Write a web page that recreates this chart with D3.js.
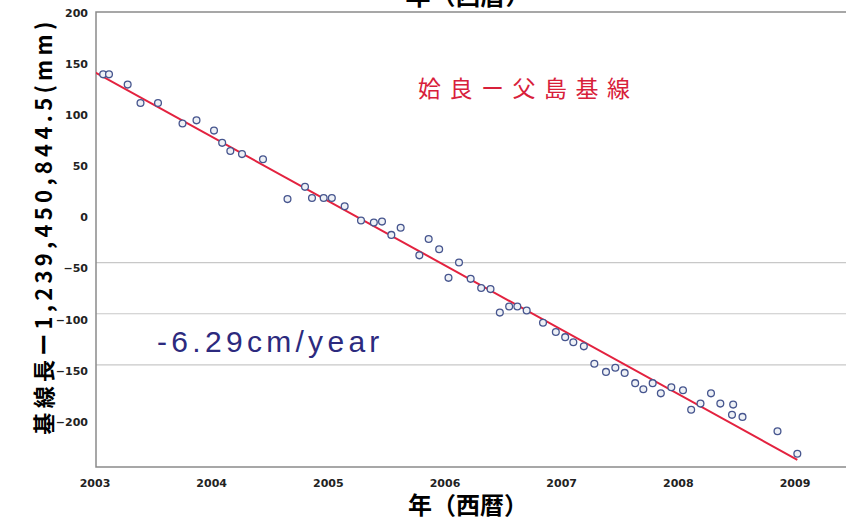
<!DOCTYPE html>
<html lang="ja">
<head>
  <meta charset="UTF-8">
  <title>姶良ー父島基線</title>
  <script src="https://d3js.org/d3.v7.min.js"></script>
  <style>
    body { margin: 0; background: #fff; }
    svg { font-family: "Noto Sans CJK JP", "DejaVu Sans", sans-serif; }
    .tick-label { font-family: "DejaVu Sans", sans-serif; font-size: 11px; font-weight: bold; fill: #222; }
  </style>
</head>
<body>
  <svg></svg>
  <script>
    // 観測値 (年, mm)
    const years = [
      2003.07, 2003.12, 2003.28, 2003.39, 2003.54, 2003.75, 2003.87, 2004.02, 2004.09, 2004.16,
      2004.26, 2004.44, 2004.65, 2004.80, 2004.86, 2004.96, 2005.03, 2005.14, 2005.28, 2005.39,
      2005.46, 2005.54, 2005.62, 2005.78, 2005.86, 2005.95, 2006.03, 2006.12, 2006.22, 2006.31,
      2006.39, 2006.47, 2006.55, 2006.62, 2006.70, 2006.84, 2006.95, 2007.03, 2007.10, 2007.19,
      2007.28, 2007.38, 2007.46, 2007.54, 2007.63, 2007.70, 2007.78, 2007.85, 2007.94, 2008.04,
      2008.11, 2008.19, 2008.28, 2008.36, 2008.46, 2008.47, 2008.55, 2008.85, 2009.02
    ];
    const values = [
      140, 140, 130, 112, 112, 92, 95, 85, 73, 65,
      62, 57, 18, 30, 19, 19, 19, 11, -3, -5,
      -4, -17, -10, -37, -21, -31, -59, -44, -60, -69,
      -70, -93, -87, -87, -91, -103, -112, -117, -122, -126,
      -143, -151, -147, -152, -162, -168, -162, -172, -166, -169,
      -188, -182, -172, -182, -193, -183, -195, -209, -231
    ];
    // 回帰直線 -6.29cm/year
    const trendYears = [2003.0, 2009.02];
    const trendValues = [142, -237];

    const xTicks = [2003, 2004, 2005, 2006, 2007, 2008, 2009];
    const yTicks = [200, 150, 100, 50, 0, -50, -100, -150, -200];
    const gridValues = [-50, -100, -150];

    const W = 846, H = 520;
    const plot = { left: 96, top: 12, right: 846, bottom: 467 };

    const svg = d3.select('svg').attr('width', W).attr('height', H);

    const x = d3.scaleLinear().domain([2003, 2009]).range([95, 795]);
    const y = d3.scaleLinear().domain([-200, 200]).range([422, 13]);

    // grid lines
    svg.append('g')
      .attr('transform', 'translate(0,-6)')
      .selectAll('line')
      .data(gridValues)
      .join('line')
      .attr('x1', plot.left).attr('x2', plot.right)
      .attr('y1', d => y(d)).attr('y2', d => y(d))
      .attr('stroke', '#c8c8c8').attr('stroke-width', 1.2);

    // frame
    svg.append('path')
      .attr('d', `M${plot.right},${plot.top}H${plot.left}V${plot.bottom}H${plot.right}`)
      .attr('fill', 'none').attr('stroke', '#8a8a8a').attr('stroke-width', 1.5);

    // tick labels
    svg.append('g').selectAll('text')
      .data(xTicks)
      .join('text')
      .attr('class', 'tick-label')
      .attr('x', d => x(d)).attr('y', 487)
      .attr('text-anchor', 'middle')
      .text(d => d);

    svg.append('g').selectAll('text')
      .data(yTicks)
      .join('text')
      .attr('class', 'tick-label')
      .attr('x', 88).attr('y', d => y(d))
      .attr('dy', '0.35em')
      .attr('text-anchor', 'end')
      .text(d => d < 0 ? '−' + Math.abs(d) : d);

    // regression line
    const pts = years.map((yr, i) => ({ yr, v: values[i] }));
    const trend = trendYears.map((yr, i) => ({ yr, v: trendValues[i] }));
    svg.append('defs').append('clipPath').attr('id', 'clip')
      .append('rect').attr('x', plot.left).attr('y', plot.top)
      .attr('width', plot.right - plot.left).attr('height', plot.bottom - plot.top);

    svg.append('path')
      .datum(trend)
      .attr('clip-path', 'url(#clip)')
      .attr('d', d3.line().x(d => x(d.yr)).y(d => y(d.v)))
      .attr('fill', 'none').attr('stroke', '#e3223f').attr('stroke-width', 2);

    svg.append('g').selectAll('circle')
      .data(pts)
      .join('circle')
      .attr('cx', d => x(d.yr)).attr('cy', d => y(d.v))
      .attr('r', 3.4)
      .attr('fill', '#eef1f6')
      .attr('stroke', '#46558e').attr('stroke-width', 1.3);

    // labels
    svg.append('text')
      .attr('x', 418).attr('y', 97)
      .attr('fill', '#d8203a')
      .attr('font-size', 23).attr('letter-spacing', 8.5)
      .text('姶良ー父島基線');

    svg.append('text')
      .attr('x', 157).attr('y', 352)
      .attr('fill', '#2c2a7e')
      .attr('font-family', '"Liberation Sans", Arial, sans-serif')
      .attr('font-size', 30).attr('letter-spacing', 4.3)
      .text('-6.29cm/year');

    // axis titles
    svg.append('text')
      .attr('transform', 'translate(52,226) rotate(-90)')
      .attr('text-anchor', 'middle')
      .attr('font-size', 22).attr('font-weight', 'bold')
      .attr('letter-spacing', 4.3)
      .text('基線長ー1,239,450,844.5(mm)');

    svg.append('text')
      .attr('x', 468).attr('y', 514)
      .attr('text-anchor', 'middle')
      .attr('font-size', 24).attr('font-weight', 'bold')
      .text('年（西暦）');

    // cropped title at top
    svg.append('text')
      .attr('x', 468).attr('y', 5)
      .attr('text-anchor', 'middle')
      .attr('font-size', 25).attr('font-weight', 'bold')
      .text('年（西暦）');
  </script>
</body>
</html>
